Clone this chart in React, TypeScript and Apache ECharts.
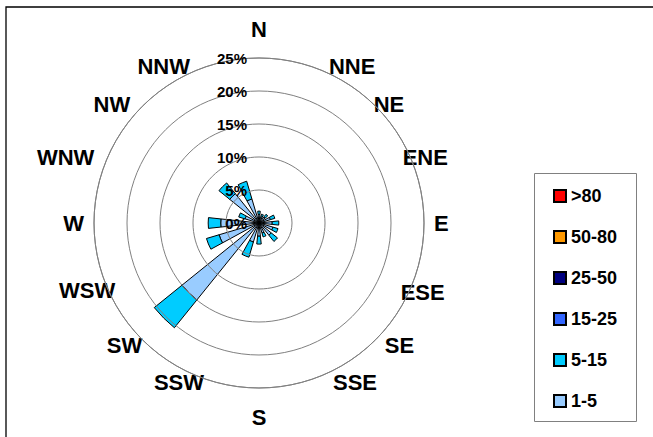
import React, { useEffect, useRef } from "react";
import * as echarts from "echarts";

const directions = ["N", "NNE", "NE", "ENE", "E", "ESE", "SE", "SSE", "S", "SSW", "SW", "WSW", "W", "WNW", "NW", "NNW"];
const speedBins = ["1-5", "5-15", "15-25", "25-50", "50-80", ">80"];
const binColors = ["#99CCFF", "#00CCFF", "#3366FF", "#000080", "#FF9900", "#FF0000"];
const radiusTicks = [0, 5, 10, 15, 20, 25];

const bin1to5 = [1.3, 1.0, 1.2, 1.8, 2.0, 2.2, 2.4, 1.6, 2.0, 3.0, 15.0, 6.3, 5.8, 2.2, 5.7, 3.8];
const bin5to15 = [0.5, 0.4, 0.5, 0.7, 1.0, 0.8, 1.2, 0.6, 1.2, 2.4, 5.4, 2.0, 1.9, 1.0, 2.1, 2.8];
const bin15to25 = [0, 0, 0, 0, 0, 0, 0, 0, 0, 0, 0, 0, 0, 0, 0, 0];
const bin25to50 = [0, 0, 0, 0, 0, 0, 0, 0, 0, 0, 0, 0, 0, 0, 0, 0];
const bin50to80 = [0, 0, 0, 0, 0, 0, 0, 0, 0, 0, 0, 0, 0, 0, 0, 0];
const binOver80 = [0, 0, 0, 0, 0, 0, 0, 0, 0, 0, 0, 0, 0, 0, 0, 0];

// label nudges (layout only): [dx, dy] from default axis-label placement
const labelNudges: [number, number][] = [
  [0, -8], [3, 16], [-9, 16], [-18, 12], [0, 2], [-20, -8], [2, -12], [7, -13],
  [0, 8], [12, -13], [7, -12], [18, -10], [0, 0], [-3, 12], [-5, 16], [-2, 16],
];

const FONT = 'Arial, "Liberation Sans", sans-serif';
const CENTER = [259, 223];
const RADIUS = 165;

export default function App() {
  const ref = useRef<HTMLDivElement>(null);
  useEffect(() => {
    if (!ref.current) return;
    const chart = echarts.init(ref.current, undefined, { renderer: "svg" });
    const allBins = [bin1to5, bin5to15, bin15to25, bin25to50, bin50to80, binOver80];
    const series = speedBins.map((name, i) => ({
      name,
      type: "bar",
      coordinateSystem: "polar",
      polarIndex: 0,
      stack: "wind",
      barCategoryGap: "46%",
      data: allBins[i].map((v) => (v === 0 ? "-" : v)),
      itemStyle: { color: binColors[i], borderColor: "#000000", borderWidth: 1 },
      emphasis: { disabled: true },
      z: 3,
    }));
    const angleData = directions.map((d, i) => {
      const [dx, dy] = labelNudges[i];
      return { value: d, textStyle: { padding: [dy, -dx, -dy, dx] } };
    });
    chart.setOption({
      animation: false,
      backgroundColor: "#ffffff",
      polar: [
        { center: CENTER, radius: RADIUS },
        { center: CENTER, radius: RADIUS },
      ],
      angleAxis: [
        {
          polarIndex: 0,
          type: "category",
          data: angleData,
          startAngle: 90 + 11.25,
          clockwise: true,
          axisLine: { show: true, lineStyle: { color: "#808080", width: 1 } },
          axisTick: { show: false },
          splitLine: { show: false },
          axisLabel: {
            show: true,
            margin: 10,
            color: "#000000",
            fontSize: 22,
            fontWeight: "bold",
            fontFamily: FONT,
          },
          z: 1,
        },
        {
          polarIndex: 1,
          type: "value",
          min: 0,
          max: 360,
          startAngle: 90,
          show: false,
        },
      ],
      radiusAxis: [
        {
          polarIndex: 0,
          type: "value",
          min: radiusTicks[0],
          max: radiusTicks[radiusTicks.length - 1],
          show: false,
        },
        {
          polarIndex: 1,
          type: "value",
          min: radiusTicks[0],
          max: radiusTicks[radiusTicks.length - 1],
          interval: 5,
          axisLine: { show: false },
          axisTick: { show: false },
          splitLine: { show: true, lineStyle: { color: "#808080", width: 1 } },
          axisLabel: {
            show: true,
            formatter: "{value}%",
            color: "#000000",
            fontSize: 15,
            fontWeight: "bold",
            fontFamily: FONT,
            margin: 12,
            align: "right",
            verticalAlign: "middle",
          },
          z: 10,
        },
      ],
      legend: {
        orient: "vertical",
        left: 553,
        top: 187,
        padding: 0,
        itemWidth: 12,
        itemHeight: 12,
        itemGap: 23,
        icon: "rect",
        data: [...speedBins].reverse(),
        textStyle: { color: "#000000", fontSize: 18, fontWeight: "bold", fontFamily: FONT },
        selectedMode: false,
      },
      graphic: [
        {
          type: "rect",
          shape: { x: 6, y: 7, width: 700, height: 500 },
          style: { fill: "none", stroke: "#000000", lineWidth: 1.3 },
          z: -10,
          silent: true,
        },
        {
          type: "rect",
          shape: { x: 534.5, y: 173.5, width: 102, height: 248 },
          style: { fill: "none", stroke: "#808080", lineWidth: 1 },
          silent: true,
        },
      ],
      series,
    });
    return () => chart.dispose();
  }, []);
  return (
    <div
      ref={ref}
      style={{ position: "absolute", left: 0, top: 0, width: 653, height: 437 }}
    />
  );
}
